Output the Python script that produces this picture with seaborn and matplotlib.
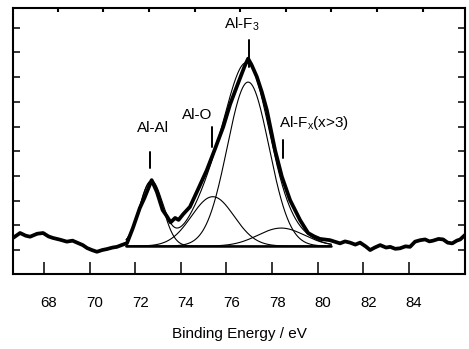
import numpy as np
import pandas as pd
import matplotlib
matplotlib.use('Agg')
import matplotlib.pyplot as plt
import matplotlib.transforms as mtransforms
import seaborn as sns

energy = [66.64, 66.95, 67.2, 67.39, 67.7, 67.96, 68.2, 68.39, 68.7, 69.0,
          69.25, 69.45, 69.7, 69.89, 70.1, 70.32, 70.55, 70.76, 71.0, 71.2,
          71.4, 71.64, 71.9, 72.2, 72.4, 72.72, 72.95, 73.2, 73.4, 73.55,
          73.75, 73.9, 74.1, 74.4, 74.8, 75.14, 75.5, 75.86, 76.16, 76.45,
          76.8, 76.95, 77.1, 77.33, 77.55, 77.77, 78.13, 78.43, 78.79, 79.23,
          79.58, 79.85, 80.1, 80.54, 80.98, 81.2, 81.42, 81.65, 81.86, 82.1,
          82.3, 82.5, 82.74, 83.0, 83.18, 83.4, 83.61, 83.85, 84.05, 84.27,
          84.5, 84.71, 84.9, 85.06, 85.3, 85.5, 85.7, 85.9, 86.1, 86.25, 86.46]
counts = [0.49, 0.69, 0.58, 0.54, 0.66, 0.69, 0.55, 0.49, 0.42, 0.34,
          0.38, 0.30, 0.20, 0.08, 0.00, -0.07, 0.00, 0.04, 0.10, 0.13,
          0.20, 0.28, 0.90, 1.70, 2.10, 2.83, 2.35, 1.62, 1.35, 1.12,
          1.30, 1.22, 1.45, 1.75, 2.55, 3.24, 4.10, 4.99, 5.90, 6.61,
          7.45, 7.75, 7.50, 7.02, 6.40, 5.67, 4.05, 2.97, 2.02, 1.21,
          0.69, 0.55, 0.45, 0.40, 0.27, 0.35, 0.30, 0.22, 0.30, 0.15,
          0.00, 0.10, 0.20, 0.10, 0.13, 0.05, 0.07, 0.15, 0.13, 0.34,
          0.40, 0.43, 0.35, 0.38, 0.45, 0.43, 0.30, 0.27, 0.38, 0.43, 0.61]

# fitted components (gaussians): centre, height above background, fwhm
peak_names = ['Al-Al', 'Al-O', 'Al-F$_3$', 'Al-F$_x$(x>3)']
peak_centers = [72.7, 75.4, 76.95, 78.4]
peak_heights = [2.62, 2.0, 6.64, 0.73]
peak_fwhm = [1.2, 2.2, 2.15, 2.4]
background = 0.16
fit_range = [71.6, 80.6]

# label text and marker positions
label_x = [72.78, 74.71, 76.68, 79.84]
label_y = [4.94, 5.47, 9.15, 5.14]
marker_x = [72.65, 75.37, 76.99, 78.48]
marker_lo = [3.32, 4.17, 7.41, 3.72]
marker_hi = [3.97, 4.98, 8.50, 4.45]

sns.set_style('ticks')
plt.rcParams['font.family'] = ['Liberation Sans', 'DejaVu Sans']
plt.rcParams['mathtext.fontset'] = 'custom'
plt.rcParams['mathtext.rm'] = 'Liberation Sans'
plt.rcParams['mathtext.it'] = 'Liberation Sans'
plt.rcParams['mathtext.default'] = 'regular'
plt.rcParams['text.color'] = 'black'
plt.rcParams['axes.labelcolor'] = 'black'
plt.rcParams['xtick.color'] = 'black'
plt.rcParams['ytick.color'] = 'black'

fig = plt.figure(figsize=(4.69, 3.49), dpi=100)
ax = fig.add_axes([13/469, 75/349, 452/469, 266/349])

# component curves + envelope
e_fit = np.linspace(fit_range[0], fit_range[1], 500)
envelope = np.full_like(e_fit, background)
for c, h, w in zip(peak_centers, peak_heights, peak_fwhm):
    s = w / 2.3548
    comp = h * np.exp(-(e_fit - c) ** 2 / (2 * s ** 2))
    envelope += comp
    sns.lineplot(x=e_fit, y=background + comp, color='black', linewidth=0.8, ax=ax)
sns.lineplot(x=e_fit, y=envelope, color='black', linewidth=0.8, ax=ax)
ax.plot(fit_range, [background, background], color='black', linewidth=1.8)

# measured data
df = pd.DataFrame({'energy': energy, 'counts': counts})
sns.lineplot(data=df, x='energy', y='counts', color='black', linewidth=2.7,
             estimator=None, ax=ax)

# peak labels
for name, tx, ty, mx, lo, hi in zip(peak_names, label_x, label_y, marker_x, marker_lo, marker_hi):
    ax.text(tx, ty, name, ha='center', va='center', fontsize=11)
    ax.plot([mx, mx], [lo, hi], color='black', linewidth=1.4)

ax.set_xlim(66.64, 86.46)
ax.set_ylim(-0.97, 9.8)
ax.set_xticks(np.arange(68, 85, 2))
ax.set_yticks(np.arange(0, 10, 1))
ax.set_yticklabels([])
ax.tick_params(axis='x', direction='in', length=8.6, width=1.1, pad=16,
               labelsize=10.8)
ax.tick_params(axis='y', direction='in', length=5, width=1.1,
               left=True, right=True, labelleft=False)
for lab in ax.get_xticklabels():
    lab.set_transform(lab.get_transform() + mtransforms.ScaledTranslation(5/100, 0, fig.dpi_scale_trans))

top = ax.secondary_xaxis('top')
top.set_xticks(np.arange(68.6, 85, 2))
top.set_xticklabels([])
top.tick_params(direction='in', length=3, width=1.5)
top.spines['top'].set_visible(False)

for sp in ax.spines.values():
    sp.set_linewidth(1.5)
    sp.set_color('black')

ax.set_xlabel('Binding Energy / eV', fontsize=11, labelpad=12)
ax.set_ylabel('')

fig.savefig('out.png', dpi=100)
